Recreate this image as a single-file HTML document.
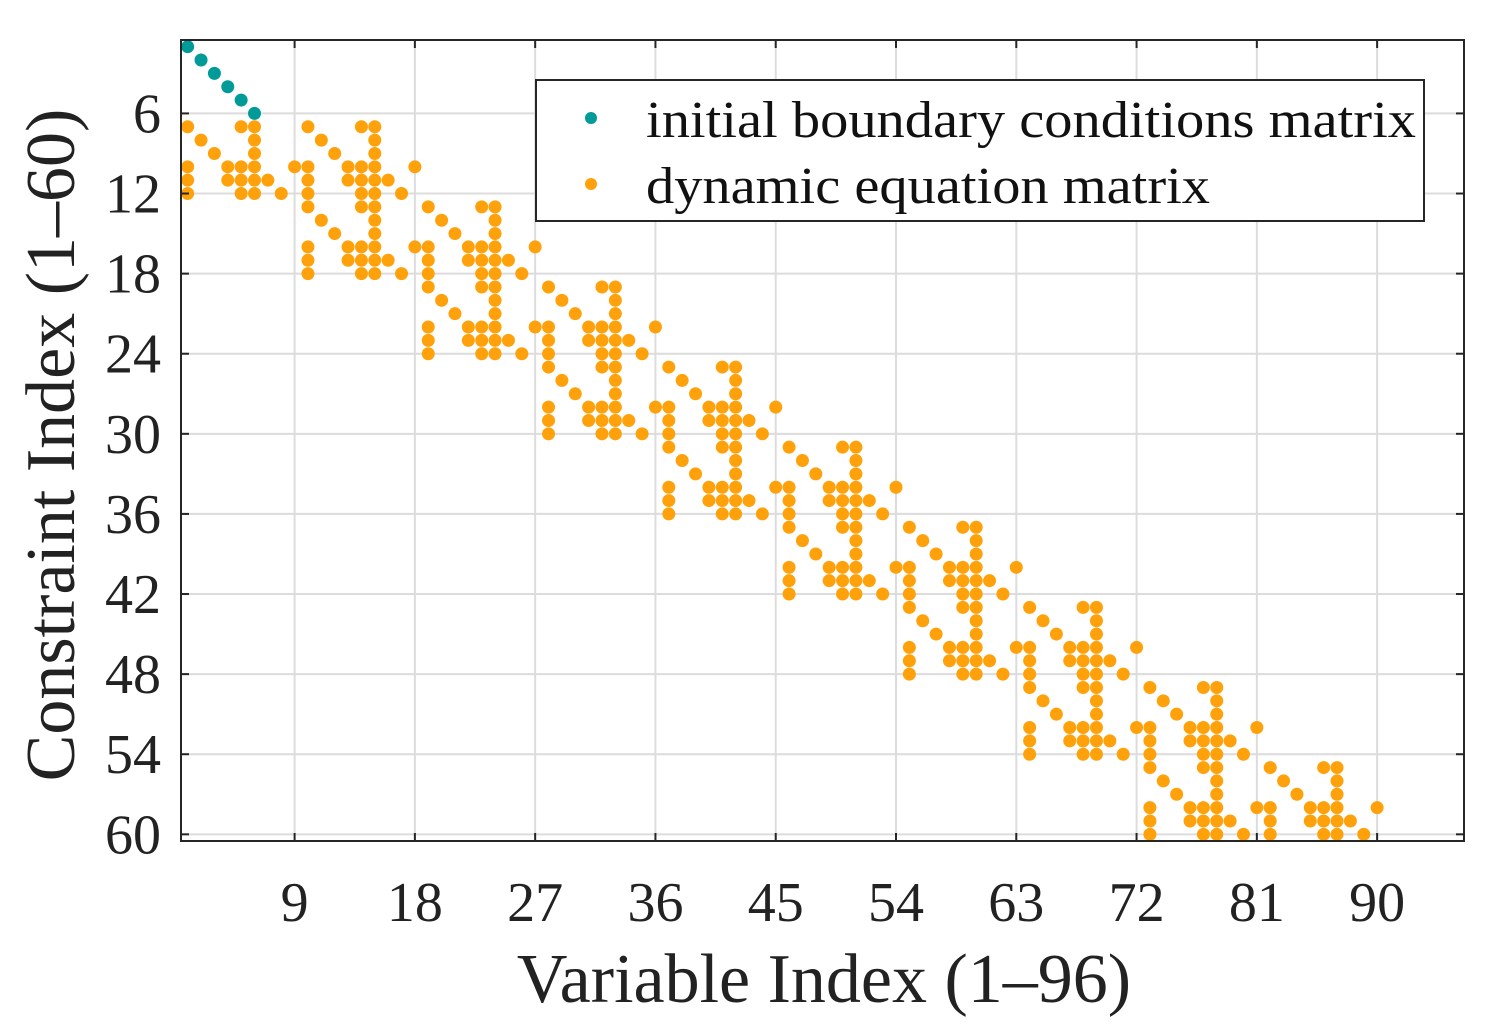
<!DOCTYPE html>
<html><head><meta charset="utf-8"><style>
html,body{margin:0;padding:0;background:#fff;}
svg{display:block;font-family:"Liberation Serif","Times New Roman",serif;}
</style></head><body>
<svg id="chart" width="1504" height="1024" viewBox="0 0 1504 1024" xmlns="http://www.w3.org/2000/svg">
<rect x="0" y="0" width="1504" height="1024" fill="#fff"/>
<g id="grid"></g>
<g id="marks"></g>
<rect x="181" y="40" width="1283" height="801" fill="none" stroke="#262626" stroke-width="2"/>
<g id="ticks"></g>
<text x="824" y="1002" font-size="70" text-anchor="middle" fill="#222">Variable Index (1–96)</text>
<text transform="translate(74,445) rotate(-90)" font-size="70" text-anchor="middle" fill="#222">Constraint Index (1–60)</text>
<g>
<rect x="536" y="80" width="888" height="141" fill="#fff" stroke="#262626" stroke-width="2"/>
<circle cx="591" cy="118" r="6" fill="#009b98"/>
<text x="646" y="137" font-size="52" textLength="770" lengthAdjust="spacingAndGlyphs" fill="#111">initial boundary conditions matrix</text>
<circle cx="591" cy="184" r="6" fill="#ffa10a"/>
<text x="646" y="203" font-size="52" textLength="564" lengthAdjust="spacingAndGlyphs" fill="#111">dynamic equation matrix</text>
</g>
</svg>
<script>
// data
const xTicks = [9,18,27,36,45,54,63,72,81,90];
const yTicks = [6,12,18,24,30,36,42,48,54,60];
const bcRows = [1,2,3,4,5,6];
const bcCols = [1,2,3,4,5,6];
// per-stage block pattern: relative row (1-6) -> relative columns (1-9)
const patternRow1 = [1,5,6];
const patternRow2 = [2,6];
const patternRow3 = [3,6];
const patternRow4 = [1,4,5,6,9];
const patternRow5 = [1,4,5,6,7];
const patternRow6 = [1,5,6,8];
const nIntervals = 9;
const stageSize = 9;
const rowsPerInterval = 6;
const bcRowCount = 6;

const X0=0.5,X1=96.5,Y0=0.5,Y1=60.5,PL=181,PR=1464,PT=40,PB=841;
const sx=v=>PL+(v-X0)/(X1-X0)*(PR-PL);
const sy=v=>PT+(v-Y0)/(Y1-Y0)*(PB-PT);
const NS='http://www.w3.org/2000/svg';
function mk(tag,attrs,parent){const e=document.createElementNS(NS,tag);for(const k in attrs)e.setAttribute(k,attrs[k]);parent.appendChild(e);return e;}
const grid=document.getElementById('grid'),ticks=document.getElementById('ticks'),marks=document.getElementById('marks');
xTicks.forEach(t=>{
  const l=mk('line',{x1:sx(t),x2:sx(t),y1:PT,y2:PB,stroke:'#dcdcdc','stroke-width':2},grid);
  
  
  mk('line',{x1:sx(t),x2:sx(t),y1:PB,y2:PB-8,stroke:'#262626','stroke-width':2},ticks);
  mk('line',{x1:sx(t),x2:sx(t),y1:PT,y2:PT+8,stroke:'#262626','stroke-width':2},ticks);
  const tx=mk('text',{x:sx(t),y:921,'font-size':56,'text-anchor':'middle',fill:'#222'},ticks);
  tx.textContent=t;
  
  
});
yTicks.forEach(t=>{
  const l=mk('line',{x1:PL,x2:PR,y1:sy(t),y2:sy(t),stroke:'#dcdcdc','stroke-width':2},grid);
  
  
  mk('line',{x1:PL,x2:PL+8,y1:sy(t),y2:sy(t),stroke:'#262626','stroke-width':2},ticks);
  mk('line',{x1:PR,x2:PR-8,y1:sy(t),y2:sy(t),stroke:'#262626','stroke-width':2},ticks);
  const tx=mk('text',{x:161,y:sy(t)+19,'font-size':56,'text-anchor':'end',fill:'#222'},ticks);
  tx.textContent=t;
  
  
});
bcRows.forEach((r,i)=>{
  const c=mk('circle',{cx:sx(bcCols[i]),cy:sy(r),r:6.5,fill:'#009b98'},marks);
  
  
});
const pattern=[patternRow1,patternRow2,patternRow3,patternRow4,patternRow5,patternRow6];
for(let k=0;k<nIntervals;k++){
  for(let s=0;s<2;s++){
    pattern.forEach((cols,ri)=>{
      const row=bcRowCount+k*rowsPerInterval+ri+1;
      cols.forEach(cc=>{
        const col=(k+s)*stageSize+cc;
        const c=mk('circle',{cx:sx(col),cy:sy(row),r:6.5,fill:'#ffa10a'},marks);
        
        
      });
    });
  }
}
</script>
</body></html>
